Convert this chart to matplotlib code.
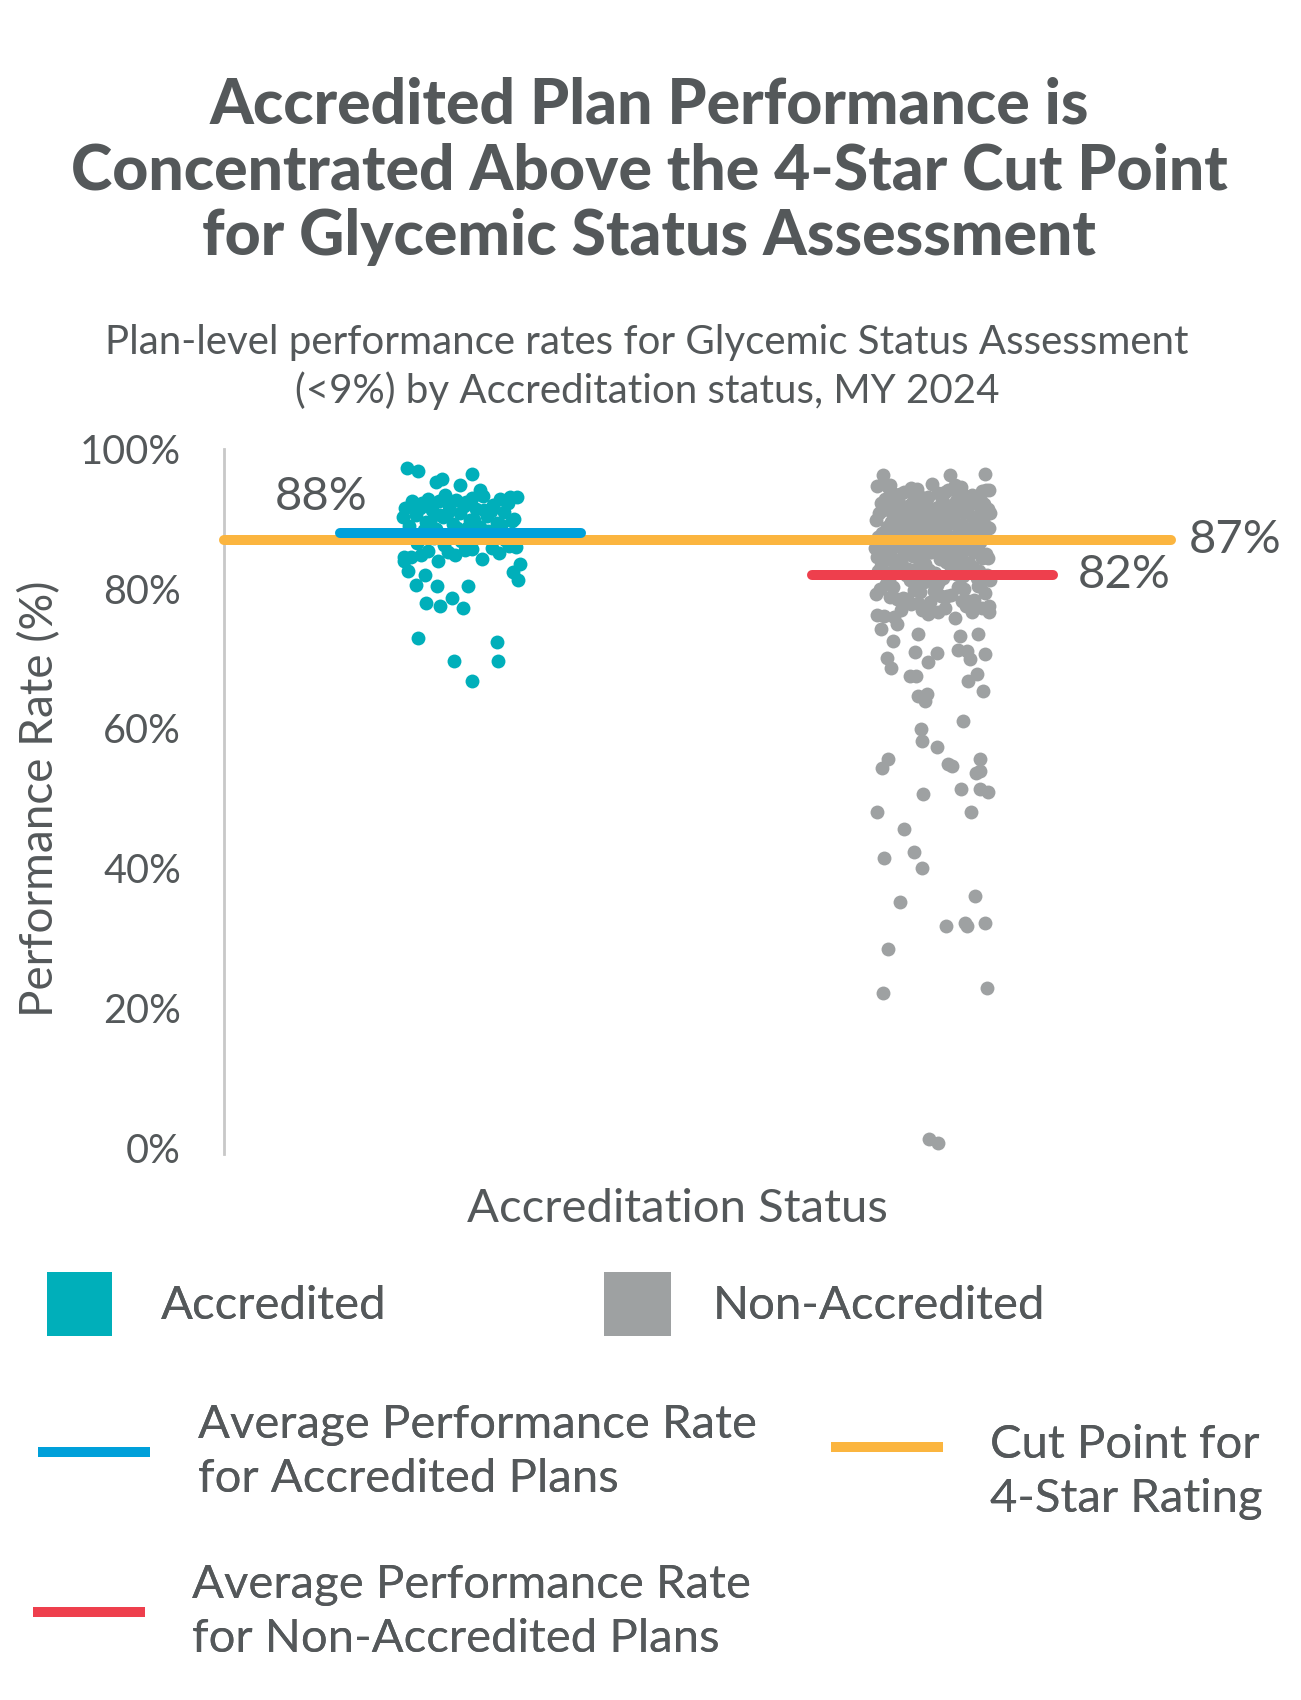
import numpy as np
import matplotlib
matplotlib.use("Agg")
import matplotlib.pyplot as plt
from matplotlib.lines import Line2D
from matplotlib.patches import Patch
from matplotlib.legend_handler import HandlerLine2D

# ---------------- data ----------------
categories = ["Accredited", "Non-Accredited"]
avg_accredited = 88
avg_non_accredited = 82
cut_point_4star = 87

# Accredited plans: dense cluster values (%)
acc_dense = [
    93.4, 93.2, 93.0, 92.9, 92.8, 92.7, 92.6, 93.3, 92.5, 93.1,
    92.4, 92.2, 92.0, 91.8, 91.6, 91.4, 91.2, 91.0, 90.8, 90.6,
    90.4, 90.2, 90.0, 89.8, 89.6, 89.4, 89.2, 89.0, 88.8, 88.6,
    92.3, 91.9, 91.5, 91.1, 90.7, 90.3, 89.9, 89.5, 89.1, 88.7,
    92.1, 91.3, 90.5, 89.7, 88.9,
    88.4, 88.2, 88.0, 87.8, 87.5, 87.2, 87.0, 86.8, 86.6, 88.3,
    86.3, 86.0, 85.7, 85.4, 85.1, 84.8, 84.5, 84.2, 83.9, 86.1,
    85.5, 84.9, 85.9, 85.2, 84.6,
]
# Accredited plans: individually visible points (value %, horizontal offset)
acc_sparse_values = [97.3, 96.9, 95.3, 95.7, 94.8, 96.4, 94.1,
                     84.0, 82.6, 81.9, 80.5, 80.4, 80.4, 81.3, 82.4, 83.5,
                     77.9, 77.6, 78.7, 77.3, 72.9, 72.4, 69.6, 69.7, 66.8]
acc_sparse_offsets = [-0.112, -0.089, -0.051, -0.038, 0.000, 0.025, 0.042,
                      -0.120, -0.110, -0.074, -0.093, -0.049, 0.017, 0.123, 0.112, 0.127,
                      -0.072, -0.042, -0.017, 0.006, -0.089, 0.078, -0.013, 0.080, 0.025]

# Non-accredited plans: dense cluster values (%)
non_dense = [
    94.9, 94.6, 94.3, 94.1, 93.8, 93.6, 93.4, 93.2, 95.1, 94.8, 94.4, 94.0, 93.7,
    93.5, 93.3, 93.1, 94.7, 94.2, 93.9, 93.0, 95.0, 94.5, 93.6, 93.2, 94.1,
    92.9, 92.7, 92.5, 92.4, 92.2, 92.0, 91.9, 91.7, 91.5, 91.4, 91.2, 91.0, 90.9,
    90.7, 90.5, 90.3, 90.1, 92.8, 92.6, 92.3, 92.1, 91.8, 91.6, 91.3, 91.1, 90.8,
    90.6, 90.4, 90.2, 90.0, 92.9, 92.4, 91.9, 91.4, 90.9, 90.4, 92.2, 91.7, 91.2,
    90.7, 90.2, 92.6, 91.5, 90.5, 91.0,
    89.9, 89.8, 89.6, 89.4, 89.3, 89.1, 88.9, 88.8, 88.6, 88.4, 88.3, 88.1, 87.9,
    87.8, 87.6, 87.4, 87.3, 87.1, 89.7, 89.5, 89.2, 89.0, 88.7, 88.5, 88.2, 88.0,
    87.7, 87.5, 87.2, 87.0, 89.9, 89.4, 88.9, 88.4, 87.9, 87.4, 89.6, 89.1, 88.6,
    88.1, 87.6, 87.1, 89.3, 88.8, 88.3, 87.8, 87.3, 89.0, 88.0, 87.0,
    86.9, 86.7, 86.5, 86.4, 86.2, 86.0, 85.9, 85.7, 85.5, 85.3, 85.2, 85.0, 84.8,
    84.7, 84.5, 84.3, 84.1, 86.8, 86.6, 86.3, 86.1, 85.8, 85.6, 85.4, 85.1, 84.9,
    84.6, 84.4, 84.2, 84.0, 86.9, 86.4, 85.9, 85.4, 84.9, 84.4, 86.6, 86.1, 85.6,
    85.1, 84.6, 84.1, 86.2, 85.7, 85.2, 84.7, 84.2, 86.0, 85.0, 84.5,
    83.9, 83.7, 83.5, 83.2, 83.0, 82.8, 82.5, 82.3, 82.0, 81.8, 81.5, 81.2, 83.8,
    83.4, 83.1, 82.7, 82.4, 82.1, 81.7, 81.4, 81.1, 83.6, 83.3, 82.9, 82.6, 82.2,
    81.9, 81.6, 81.3, 81.0, 83.5, 82.8, 82.0, 81.5, 83.0, 82.4, 81.8, 83.7, 82.6, 81.2,
    80.8, 80.5, 80.2, 79.9, 79.6, 79.3, 79.0, 78.7, 78.4, 78.1, 80.7, 80.3, 79.8,
    79.4, 78.9, 78.5, 78.2, 80.9, 80.0, 79.1, 78.6, 80.4, 79.7, 78.8, 78.3,
    77.9, 77.6, 77.3, 77.0, 76.7, 76.4, 76.1, 75.8, 77.8, 77.2, 76.6, 76.0, 77.5,
    76.9, 76.3,
]
# Non-accredited plans: individually visible points (value %, horizontal offset)
non_sparse_values = [96.3, 96.3, 96.4,
                     76.6, 74.2, 72.5, 75.0, 73.5, 73.2, 73.5,
                     70.9, 70.8, 69.5, 70.1, 68.6, 71.2, 71.1, 69.9, 70.6,
                     67.5, 67.5, 66.8, 67.8, 65.3, 64.6, 64.9, 63.9,
                     61.0, 59.9, 58.2, 57.3, 55.7, 54.3, 54.9, 54.6, 55.7, 53.9, 53.6,
                     51.4, 51.3, 50.9, 50.6, 48.0, 48.1, 45.6, 41.5, 42.3, 40.1,
                     35.1, 36.0, 31.8, 32.2, 31.7, 32.2, 28.5, 22.1, 22.9, 1.3, 0.7]
non_sparse_offsets = [-0.106, 0.036, 0.110,
                      0.120, -0.110, -0.085, -0.075, -0.032, 0.057, 0.095,
                      -0.038, 0.008, -0.011, -0.097, -0.089, 0.053, 0.072, 0.078, 0.110,
                      -0.049, -0.036, 0.074, 0.093, 0.106, -0.032, -0.013, -0.017,
                      0.063, -0.025, -0.023, 0.008, -0.095, -0.108, 0.032, 0.040, 0.099, 0.101, 0.091,
                      0.059, 0.099, 0.116, -0.021, -0.118, 0.082, -0.061, -0.104, -0.040, -0.023,
                      -0.070, 0.089, 0.027, 0.068, 0.072, 0.110, -0.095, -0.106, 0.114, -0.008, 0.011]

yticks = [0, 20, 40, 60, 80, 100]
ytick_labels = ["0%", "20%", "40%", "60%", "80%", "100%"]

title_lines = ["Accredited Plan Performance is",
               "Concentrated Above the 4-Star Cut Point",
               "for Glycemic Status Assessment"]
subtitle_lines = ["Plan-level performance rates for Glycemic Status Assessment",
                  "(<9%) by Accreditation status, MY 2024"]

# ---------------- style ----------------
TEAL = "#00AFBA"
GRAY = "#9EA1A2"
BLUE = "#00A0DA"
ORANGE = "#FBB53F"
RED = "#EE3F4D"
TEXT = "#54585A"
AXIS = "#C8C8C8"

plt.rcParams["font.family"] = ["Lato", "DejaVu Sans"]

W, H = 1301, 1700
fig = plt.figure(figsize=(W / 100, H / 100), dpi=100)


def fx(px):
    return px / W


def fy(py):
    return 1 - py / H


ax = fig.add_axes([fx(224), fy(1154), fx(1169) - fx(224), fy(449) - fy(1154)])
ax.set_xlim(-0.5, 1.5)
ax.set_ylim(-0.9, 100)

for s in ["top", "right", "bottom"]:
    ax.spines[s].set_visible(False)
ax.spines["left"].set_color(AXIS)
ax.spines["left"].set_linewidth(2)
ax.set_xticks([])
ax.set_yticks(yticks)
ax.set_yticklabels(ytick_labels)
ax.tick_params(axis="y", length=0, pad=31, labelsize=28.5, labelcolor=TEXT)


def golden_jitter(n, half_width, phase):
    k = np.arange(n)
    return ((k * 0.6180339887 + phase) % 1.0 - 0.5) * 2 * half_width


PT_SIZE = 100
# non-accredited (x = 1)
nd = np.array(non_dense)
ax.scatter(1 + golden_jitter(len(nd), 0.122, 0.13), nd, s=PT_SIZE, color=GRAY,
           linewidths=0, zorder=2)
ax.scatter(1 + np.array(non_sparse_offsets), non_sparse_values, s=PT_SIZE,
           color=GRAY, linewidths=0, zorder=2, clip_on=False)
# accredited (x = 0)
ad = np.array(acc_dense)
ax.scatter(0 + golden_jitter(len(ad), 0.122, 0.37), ad, s=PT_SIZE, color=TEAL,
           linewidths=0, zorder=2)
ax.scatter(0 + np.array(acc_sparse_offsets), acc_sparse_values, s=PT_SIZE,
           color=TEAL, linewidths=0, zorder=2, clip_on=False)

LW = 7.2
ax.plot([-0.5, 1.505], [cut_point_4star] * 2, color=ORANGE, lw=LW,
        solid_capstyle="round", zorder=3, clip_on=False)
ax.plot([-0.255, 0.255], [avg_accredited] * 2, color=BLUE, lw=LW,
        solid_capstyle="round", zorder=4)
ax.plot([1 - 0.255, 1 + 0.255], [avg_non_accredited] * 2, color=RED, lw=LW,
        solid_capstyle="round", zorder=4)

ANN = 34
ax.text(-0.295, 93.2, f"{avg_accredited}%", ha="center", va="center",
        fontsize=ANN, color=TEXT)
ax.text(1.542, cut_point_4star, f"{cut_point_4star}%", ha="left", va="center",
        fontsize=ANN, color=TEXT, clip_on=False)
ax.text(1.307, avg_non_accredited, f"{avg_non_accredited}%", ha="left",
        va="center", fontsize=ANN, color=TEXT, clip_on=False)

# titles
for line, base in zip(title_lines, [124, 190, 255]):
    fig.text(fx(649), fy(base), line, ha="center", va="baseline",
             fontsize=45, fontweight="black", color=TEXT,
             family=["Lato Black", "Lato", "DejaVu Sans"])
for line, base in zip(subtitle_lines, [354, 403]):
    fig.text(fx(647), fy(base), line, ha="center", va="baseline",
             fontsize=29, color=TEXT)

fig.text(fx(677), fy(1222), "Accreditation Status", ha="center",
         va="baseline", fontsize=34, color=TEXT)
fig.text(fx(40), fy(799), "Performance Rate (%)", ha="center", va="center",
         rotation=90, fontsize=33, color=TEXT)


# ---------------- legends ----------------
class HandlerLineShift(HandlerLine2D):
    def __init__(self, dy=0.0, **kw):
        super().__init__(**kw)
        self.dy = dy

    def create_artists(self, legend, orig_handle, xdescent, ydescent, width,
                       height, fontsize, trans):
        arts = super().create_artists(legend, orig_handle, xdescent, ydescent,
                                      width, height, fontsize, trans)
        for a in arts:
            if isinstance(a, Line2D):
                a.set_ydata(np.asarray(a.get_ydata(), float) + self.dy * fontsize)
        return arts


LEG_FS = 34


def add_legend(handle, label, x_px, y_px, hl, hh=0.7, pad=1.0, handler=None):
    kw = {}
    if handler is not None:
        kw["handler_map"] = {handle: handler}
    leg = fig.legend([handle], [label], loc="center left",
                     bbox_to_anchor=(fx(x_px), fy(y_px)),
                     bbox_transform=fig.transFigure, frameon=False,
                     fontsize=LEG_FS, labelcolor=TEXT, borderpad=0,
                     borderaxespad=0, handlelength=hl, handleheight=hh,
                     handletextpad=pad, **kw)
    for t in leg.get_texts():
        t.set_linespacing(1.33)
    fig.add_artist(leg)
    return leg


add_legend(Patch(facecolor=TEAL, edgecolor="none"), categories[0], 47, 1304,
           hl=1.38, hh=1.74, pad=1.03)
add_legend(Patch(facecolor=GRAY, edgecolor="none"), categories[1], 604, 1304,
           hl=1.42, hh=1.74, pad=0.88)
add_legend(Line2D([], [], color=BLUE, lw=LW, solid_capstyle="butt"),
           "Average Performance Rate\nfor Accredited Plans", 38, 1452,
           hl=2.37, pad=1.02)
add_legend(Line2D([], [], color=RED, lw=LW, solid_capstyle="butt"),
           "Average Performance Rate\nfor Non-Accredited Plans", 33, 1612,
           hl=2.37, pad=1.0)
orange_handle = Line2D([], [], color=ORANGE, lw=LW, solid_capstyle="butt")
add_legend(orange_handle, "Cut Point for\n4-Star Rating", 831, 1472,
           hl=2.37, pad=1.0, handler=HandlerLineShift(dy=0.53))

fig.savefig("out.png", dpi=100, facecolor="white")
